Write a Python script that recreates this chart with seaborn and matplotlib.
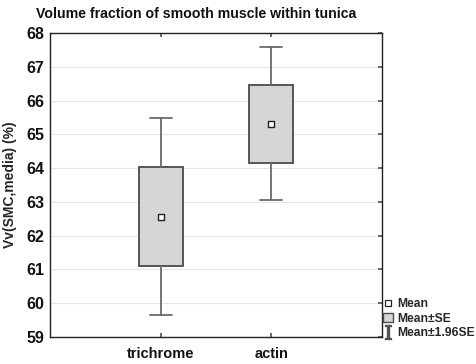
import matplotlib
matplotlib.use("Agg")
import matplotlib.pyplot as plt
import seaborn as sns
import pandas as pd
from matplotlib.lines import Line2D
from matplotlib.patches import Patch

categories = ["trichrome", "actin"]
means = [62.55, 65.31]
se_low = [61.09, 64.14]
se_high = [64.04, 66.46]
ci_low = [59.66, 63.05]
ci_high = [65.47, 67.60]
y_ticks = [59, 60, 61, 62, 63, 64, 65, 66, 67, 68]

sns.set_theme(style="white")
plt.rcParams["font.family"] = ["Liberation Sans", "DejaVu Sans"]
plt.rcParams["mathtext.fontset"] = "dejavuserif"

df = pd.DataFrame({"group": categories, "mean": means,
                   "se_low": se_low, "se_high": se_high,
                   "ci_low": ci_low, "ci_high": ci_high})

fig = plt.figure(figsize=(4.77, 3.64), dpi=100, facecolor="white")
ax = fig.add_axes([0.1048, 0.0742, 0.696, 0.8351])

stats = []
for _, r in df.iterrows():
    stats.append(dict(med=r["mean"], q1=r["se_low"], q3=r["se_high"],
                      whislo=r["ci_low"], whishi=r["ci_high"], fliers=[],
                      label=r["group"]))
positions = list(range(len(categories)))
ax.bxp(stats, positions=positions, widths=0.4, patch_artist=True,
       showfliers=False, showcaps=True,
       boxprops=dict(facecolor="#d6d6d6", edgecolor="#4a4a4a", linewidth=1.3),
       whiskerprops=dict(color="#6a6a6a", linewidth=1.3),
       capprops=dict(color="#6a6a6a", linewidth=1.3),
       medianprops=dict(linewidth=0), capwidths=0.2)

sns.scatterplot(data=df, x=positions, y="mean", ax=ax, marker="s", s=14,
                facecolor="white", edgecolor="#222222", linewidth=1.0, zorder=5,
                legend=False)

ax.set_xlim(-1, 2)
ax.set_ylim(59, 68)
ax.set_yticks(y_ticks)
ax.set_yticklabels([str(t) for t in y_ticks], fontsize=11.5, fontweight="bold")
ax.set_xticks(positions)
ax.set_xticklabels(categories, fontsize=10.5, fontweight="bold")
ax.set_xlabel("")
ax.set_ylabel("Vv(SMC,media) (%)", fontsize=10, fontweight="bold")
ax.yaxis.set_label_coords(-0.1, 0.5)
ax.grid(axis="y", color="#e6e6e6", linewidth=0.8)
ax.set_axisbelow(True)
for s in ax.spines.values():
    s.set_color("#222222")
    s.set_linewidth(1.0)
ax.tick_params(axis="both", direction="in", length=3, color="#555555",
               top=True, right=True, left=False, bottom=True,
               labelcolor="#111111")
ax.tick_params(axis="y", pad=4)
ax.tick_params(axis="x", pad=7)

fig.text(36 / 477, 1 - 14.5 / 364, "Volume fraction of smooth muscle within tunica",
         fontsize=10.2, fontweight="bold", ha="left", va="center", color="#111111")

handles = [
    Line2D([], [], linestyle="none", marker="s", markersize=4,
           markerfacecolor="white", markeredgecolor="#222222", markeredgewidth=0.9),
    Patch(facecolor="#d6d6d6", edgecolor="#4a4a4a", linewidth=1.0),
    Line2D([], [], linestyle="none", marker=r"$\mathrm{I}$", markersize=10,
           color="#555555"),
]
labels = ["Mean", "Mean±SE", "Mean±1.96SE"]
fig.legend(handles, labels, loc="upper left", bbox_to_anchor=(382 / 477, 1 - 297 / 364),
           frameon=False, prop=dict(weight="bold", size=8.7),
           handlelength=0.8, handletextpad=0.35, labelspacing=0.2, borderpad=0.1,
           borderaxespad=0)

fig.savefig("out.png", dpi=100, facecolor="white")
